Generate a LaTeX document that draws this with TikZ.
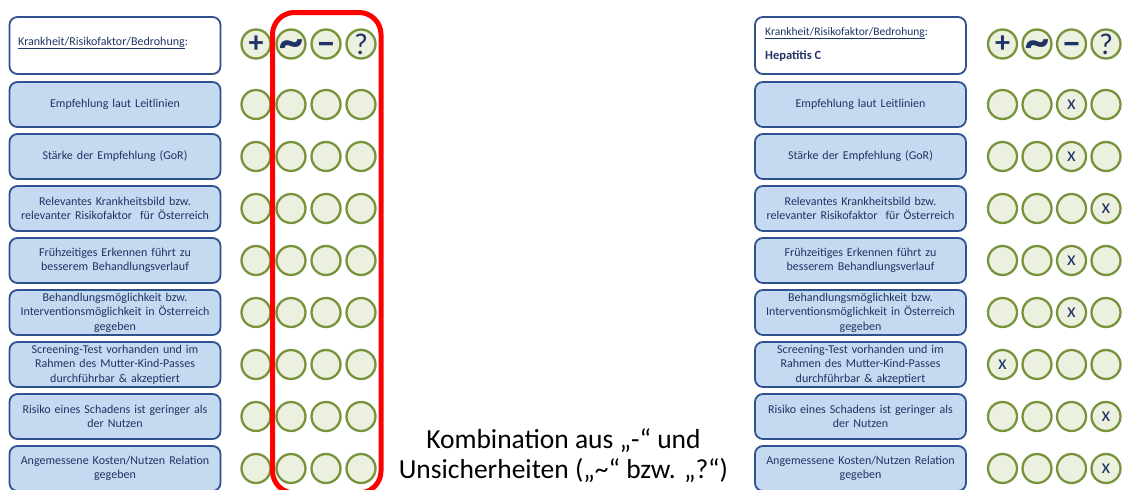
\documentclass[tikz,border=0pt]{standalone}
\usepackage{fontspec}
\setmainfont{Carlito}
\definecolor{boxfill}{RGB}{197,217,240}
\definecolor{boxline}{RGB}{47,82,143}
\definecolor{navy}{RGB}{31,52,100}
\definecolor{cfill}{RGB}{235,241,222}
\definecolor{cline}{RGB}{119,147,60}
\begin{document}
\begin{tikzpicture}[x=1pt,y=-1pt,
 crit/.style={draw=boxline,line width=1.8pt,fill=boxfill,rounded corners=8pt,minimum width=211pt,minimum height=45pt,text width=205pt,align=center,inner sep=0pt,font=\fontsize{12}{14.6}\selectfont,text=navy},
 headbox/.style={draw=boxline,line width=1.8pt,fill=white,rounded corners=8pt,minimum width=211pt,minimum height=57pt,inner sep=0pt},
 circ/.style={circle,draw=cline,line width=2.3pt,fill=cfill,minimum size=29pt,inner sep=0pt},
 symb/.style={text=navy,inner sep=0pt,font=\fontsize{30}{30}\selectfont\bfseries},
 xmark/.style={text=navy,inner sep=0pt,font=\fontsize{20}{20}\selectfont},
 headtxt/.style={anchor=west,inner sep=0pt,text=navy,font=\fontsize{12}{14}\selectfont},
 note/.style={align=center,inner sep=0pt,font=\fontsize{27.5}{29.5}\selectfont,text=black},
 redframe/.style={draw=red,line width=5pt,rounded corners=22pt}]
\useasboundingbox (0,0) rectangle (1122,490);

% header boxes
\node[headbox] (LH) at (115,45.5) {};
\node[headtxt] (LHt) at (18,43) {\underline{Krankheit/Risikofaktor/Bedrohung}:};
\node[headbox] (RH) at (860.5,45.5) {};
\node[headtxt,font=\fontsize{11.5}{13}\selectfont] (RHt) at (765,33) {\underline{Krankheit/Risikofaktor/Bedrohung}:};
\node[headtxt,font=\fontsize{12.5}{14}\selectfont\bfseries] (RHd) at (765,56) {Hepatitis C};

% header symbols
\foreach \side/\x/\d in {L/256/35, R/1002.5/34.5}{
  \foreach \c in {1,...,4}{
    \node[circ] (\side S\c) at ({\x+\d*(\c-1)},44) {};
  }
  \node[symb] at (\side S1) {+};
  \node[symb,font=\fontsize{48}{48}\selectfont\bfseries] at (\side S2) {\raisebox{-13pt}[0pt][0pt]{\textasciitilde}};
  \node[symb,font=\fontsize{36}{36}\selectfont\bfseries] at (\side S3) {\raisebox{-11.4pt}[0pt][0pt]{\symbol{"2212}}};
  \node[symb,font=\fontsize{30}{30}\selectfont] at (\side S4) {?};
}

% criteria rows
\foreach \r/\t in {1/{Empfehlung laut Leitlinien},
  2/{Stärke der Empfehlung (GoR)},
  3/{Relevantes Krankheitsbild bzw.\\relevanter Risikofaktor\ \ für Österreich},
  4/{Frühzeitiges Erkennen führt zu\\besserem Behandlungsverlauf},
  5/{Behandlungsmöglichkeit bzw.\\Interventionsmöglichkeit in Österreich\\gegeben},
  6/{Screening-Test vorhanden und im\\Rahmen des Mutter-Kind-Passes\\durchführbar \& akzeptiert},
  7/{Risiko eines Schadens ist geringer als\\der Nutzen},
  8/{Angemessene Kosten/Nutzen Relation\\gegeben}}{
  \node[crit] (LB\r) at (115,{104.5+52*(\r-1)}) {\t};
  \node[crit] (RB\r) at (860.5,{104.5+52*(\r-1)}) {\t};
  \foreach \c in {1,...,4}{
    \node[circ] (LC\r-\c) at ({256+35*(\c-1)},{104.5+52*(\r-1)}) {};
    \node[circ] (RC\r-\c) at ({1002.5+34.5*(\c-1)},{104.5+52*(\r-1)}) {};
  }
}

% marks on the right
\foreach \r/\m in {1/3,2/3,3/4,4/3,5/3,6/1,7/4,8/4}{
  \node[xmark] (RX\r) at (RC\r-\m) {x};
}

% red frame
\draw[redframe] (272.5,12.5) rectangle (381,493);

% note
\node[note] (N) at (563.5,455.5) {Kombination aus „-“ und\\Unsicherheiten („\textasciitilde“ bzw. „?“)};
\end{tikzpicture}
\end{document}
